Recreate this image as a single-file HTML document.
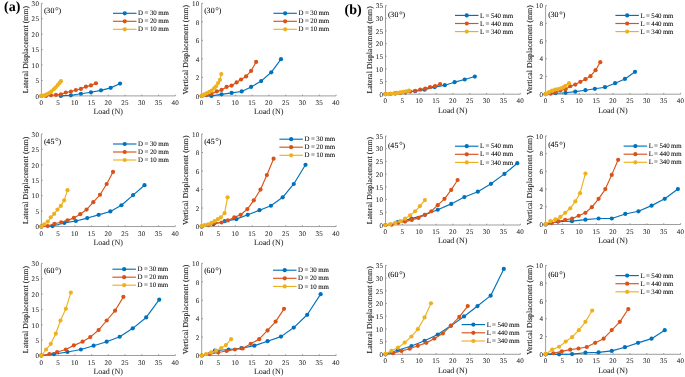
<!DOCTYPE html>
<html><head><meta charset="utf-8"><style>
html,body{margin:0;padding:0;background:#fff;}
body{width:685px;height:377px;overflow:hidden;}
svg{display:block;will-change:transform;}
text{font-family:"Liberation Serif",serif;fill:#262626;text-rendering:geometricPrecision;stroke:currentColor;stroke-width:0.06px;color:#262626;}
.t{font-size:7.0px;letter-spacing:0.3px;}
.l{font-size:8px;}
.ly{font-size:7.6px;letter-spacing:0.14px;stroke-width:0.15px;}
.g{font-size:6.9px;fill:#000;color:#000;letter-spacing:-0.12px;}
.a{font-size:7.9px;fill:#000;color:#000;}
.p{font-size:14px;font-weight:bold;fill:#000;}
</style></head><body>
<svg width="685" height="377" viewBox="0 0 685 377">
<rect width="685" height="377" fill="#fff"/>
<path d="M41.4 3.3V95.9H175.3" fill="none" stroke="#858585" stroke-width="0.8"/>
<path d="M41.4 95.9h1.3M41.4 80.47h1.3M41.4 65.03h1.3M41.4 49.6h1.3M41.4 34.17h1.3M41.4 18.73h1.3M41.4 3.3h1.3M41.4 95.9v-1.3M58.14 95.9v-1.3M74.88 95.9v-1.3M91.61 95.9v-1.3M108.35 95.9v-1.3M125.09 95.9v-1.3M141.83 95.9v-1.3M158.56 95.9v-1.3M175.3 95.9v-1.3" fill="none" stroke="#858585" stroke-width="0.8"/>
<text x="39.2" y="98.6" class="t" text-anchor="end">0</text>
<text x="39.2" y="83.17" class="t" text-anchor="end">5</text>
<text x="39.2" y="67.73" class="t" text-anchor="end">10</text>
<text x="39.2" y="52.3" class="t" text-anchor="end">15</text>
<text x="39.2" y="36.87" class="t" text-anchor="end">20</text>
<text x="39.2" y="21.43" class="t" text-anchor="end">25</text>
<text x="39.2" y="6" class="t" text-anchor="end">30</text>
<text x="41.4" y="105" class="t" text-anchor="middle">0</text>
<text x="58.14" y="105" class="t" text-anchor="middle">5</text>
<text x="74.88" y="105" class="t" text-anchor="middle">10</text>
<text x="91.61" y="105" class="t" text-anchor="middle">15</text>
<text x="108.35" y="105" class="t" text-anchor="middle">20</text>
<text x="125.09" y="105" class="t" text-anchor="middle">25</text>
<text x="141.83" y="105" class="t" text-anchor="middle">30</text>
<text x="158.56" y="105" class="t" text-anchor="middle">35</text>
<text x="175.3" y="105" class="t" text-anchor="middle">40</text>
<text x="108.15" y="114.2" class="l" text-anchor="middle">Load (N)</text>
<text transform="translate(28.1 49.6) rotate(-90)" class="ly" text-anchor="middle">Lateral Displacement (mm)</text>
<text x="44 46.25 50.4" y="12.9" class="a">(30</text>
<circle cx="56.8" cy="8.7" r="1.2" fill="none" stroke="#333" stroke-width="0.6"/>
<text x="58.5" y="12.9" class="a">)</text>
<path d="M60.82 95.9 L70.86 95.28 L80.9 93.74 L90.94 92.29 L100.99 90.34 L110.69 87.87 L120.07 83.55" fill="none" stroke="#0072BD" stroke-width="1.15" stroke-linejoin="round"/>
<g fill="#0072BD"><circle cx="60.82" cy="95.9" r="2.1"/><circle cx="70.86" cy="95.28" r="2.1"/><circle cx="80.9" cy="93.74" r="2.1"/><circle cx="90.94" cy="92.29" r="2.1"/><circle cx="100.99" cy="90.34" r="2.1"/><circle cx="110.69" cy="87.87" r="2.1"/><circle cx="120.07" cy="83.55" r="2.1"/></g>
<path d="M41.4 95.9 L45.99 95.9 L50.97 95.28 L55.96 94.91 L60.92 94.29 L65.84 92.5 L70.86 91.58 L75.88 90.04 L80.9 88.89 L85.92 86.64 L90.94 85.41 L95.96 83.24" fill="none" stroke="#D95319" stroke-width="1.15" stroke-linejoin="round"/>
<g fill="#D95319"><circle cx="41.4" cy="95.9" r="2.1"/><circle cx="45.99" cy="95.9" r="2.1"/><circle cx="50.97" cy="95.28" r="2.1"/><circle cx="55.96" cy="94.91" r="2.1"/><circle cx="60.92" cy="94.29" r="2.1"/><circle cx="65.84" cy="92.5" r="2.1"/><circle cx="70.86" cy="91.58" r="2.1"/><circle cx="75.88" cy="90.04" r="2.1"/><circle cx="80.9" cy="88.89" r="2.1"/><circle cx="85.92" cy="86.64" r="2.1"/><circle cx="90.94" cy="85.41" r="2.1"/><circle cx="95.96" cy="83.24" r="2.1"/></g>
<path d="M41.4 95.9 L41.9 95.88 L44.28 95.38 L46.69 94.4 L49.07 93.02 L51.38 91.34 L53.75 89.27 L55.73 87.31 L57.74 85.09 L59.54 82.91 L60.92 81.15" fill="none" stroke="#EDB120" stroke-width="1.15" stroke-linejoin="round"/>
<g fill="#EDB120"><circle cx="41.4" cy="95.9" r="2.1"/><circle cx="41.9" cy="95.88" r="2.1"/><circle cx="44.28" cy="95.38" r="2.1"/><circle cx="46.69" cy="94.4" r="2.1"/><circle cx="49.07" cy="93.02" r="2.1"/><circle cx="51.38" cy="91.34" r="2.1"/><circle cx="53.75" cy="89.27" r="2.1"/><circle cx="55.73" cy="87.31" r="2.1"/><circle cx="57.74" cy="85.09" r="2.1"/><circle cx="59.54" cy="82.91" r="2.1"/><circle cx="60.92" cy="81.15" r="2.1"/></g>
<path d="M113 13.3h23.5" stroke="#0072BD" stroke-width="1.15"/>
<circle cx="124.75" cy="13.3" r="2.1" fill="#0072BD"/>
<text x="138.1" y="15.4" class="g">D = 30 mm</text>
<path d="M113 21.3h23.5" stroke="#D95319" stroke-width="1.15"/>
<circle cx="124.75" cy="21.3" r="2.1" fill="#D95319"/>
<text x="138.1" y="23.4" class="g">D = 20 mm</text>
<path d="M113 29.3h23.5" stroke="#EDB120" stroke-width="1.15"/>
<circle cx="124.75" cy="29.3" r="2.1" fill="#EDB120"/>
<text x="138.1" y="31.4" class="g">D = 10 mm</text>
<path d="M201.7 3.3V95.9H336.1" fill="none" stroke="#858585" stroke-width="0.8"/>
<path d="M201.7 95.9h1.3M201.7 77.38h1.3M201.7 58.86h1.3M201.7 40.34h1.3M201.7 21.82h1.3M201.7 3.3h1.3M201.7 95.9v-1.3M218.5 95.9v-1.3M235.3 95.9v-1.3M252.1 95.9v-1.3M268.9 95.9v-1.3M285.7 95.9v-1.3M302.5 95.9v-1.3M319.3 95.9v-1.3M336.1 95.9v-1.3" fill="none" stroke="#858585" stroke-width="0.8"/>
<text x="199.5" y="98.6" class="t" text-anchor="end">0</text>
<text x="199.5" y="80.08" class="t" text-anchor="end">2</text>
<text x="199.5" y="61.56" class="t" text-anchor="end">4</text>
<text x="199.5" y="43.04" class="t" text-anchor="end">6</text>
<text x="199.5" y="24.52" class="t" text-anchor="end">8</text>
<text x="199.5" y="6" class="t" text-anchor="end">10</text>
<text x="201.7" y="105" class="t" text-anchor="middle">0</text>
<text x="218.5" y="105" class="t" text-anchor="middle">5</text>
<text x="235.3" y="105" class="t" text-anchor="middle">10</text>
<text x="252.1" y="105" class="t" text-anchor="middle">15</text>
<text x="268.9" y="105" class="t" text-anchor="middle">20</text>
<text x="285.7" y="105" class="t" text-anchor="middle">25</text>
<text x="302.5" y="105" class="t" text-anchor="middle">30</text>
<text x="319.3" y="105" class="t" text-anchor="middle">35</text>
<text x="336.1" y="105" class="t" text-anchor="middle">40</text>
<text x="268.7" y="114.2" class="l" text-anchor="middle">Load (N)</text>
<text transform="translate(188.4 49.6) rotate(-90)" class="ly" text-anchor="middle">Vertical Displacement (mm)</text>
<text x="204.3 206.55 210.7" y="12.9" class="a">(30</text>
<circle cx="217.1" cy="8.7" r="1.2" fill="none" stroke="#333" stroke-width="0.6"/>
<text x="218.8" y="12.9" class="a">)</text>
<path d="M201.7 95.9 L211.44 95.9 L221.52 94.33 L231.6 92.94 L241.68 91.46 L251.09 86.92 L261.17 81.08 L271.25 72.29 L281 59.14" fill="none" stroke="#0072BD" stroke-width="1.15" stroke-linejoin="round"/>
<g fill="#0072BD"><circle cx="201.7" cy="95.9" r="2.1"/><circle cx="211.44" cy="95.9" r="2.1"/><circle cx="221.52" cy="94.33" r="2.1"/><circle cx="231.6" cy="92.94" r="2.1"/><circle cx="241.68" cy="91.46" r="2.1"/><circle cx="251.09" cy="86.92" r="2.1"/><circle cx="261.17" cy="81.08" r="2.1"/><circle cx="271.25" cy="72.29" r="2.1"/><circle cx="281" cy="59.14" r="2.1"/></g>
<path d="M201.7 95.9 L206.57 95.16 L211.44 93.86 L216.82 91.46 L221.52 89.88 L226.56 86.92 L231.6 85.53 L236.64 82.47 L241.01 79.51 L246.05 76.45 L251.09 70.9 L256.13 61.92" fill="none" stroke="#D95319" stroke-width="1.15" stroke-linejoin="round"/>
<g fill="#D95319"><circle cx="201.7" cy="95.9" r="2.1"/><circle cx="206.57" cy="95.16" r="2.1"/><circle cx="211.44" cy="93.86" r="2.1"/><circle cx="216.82" cy="91.46" r="2.1"/><circle cx="221.52" cy="89.88" r="2.1"/><circle cx="226.56" cy="86.92" r="2.1"/><circle cx="231.6" cy="85.53" r="2.1"/><circle cx="236.64" cy="82.47" r="2.1"/><circle cx="241.01" cy="79.51" r="2.1"/><circle cx="246.05" cy="76.45" r="2.1"/><circle cx="251.09" cy="70.9" r="2.1"/><circle cx="256.13" cy="61.92" r="2.1"/></g>
<path d="M201.7 95.9 L202.2 95.53 L204.59 94.33 L207.01 93.12 L209.39 91.92 L211.71 90.71 L214.1 88.31 L216.08 86.36 L218.1 83.12 L219.91 79.88 L221.29 74.05" fill="none" stroke="#EDB120" stroke-width="1.15" stroke-linejoin="round"/>
<g fill="#EDB120"><circle cx="201.7" cy="95.9" r="2.1"/><circle cx="202.2" cy="95.53" r="2.1"/><circle cx="204.59" cy="94.33" r="2.1"/><circle cx="207.01" cy="93.12" r="2.1"/><circle cx="209.39" cy="91.92" r="2.1"/><circle cx="211.71" cy="90.71" r="2.1"/><circle cx="214.1" cy="88.31" r="2.1"/><circle cx="216.08" cy="86.36" r="2.1"/><circle cx="218.1" cy="83.12" r="2.1"/><circle cx="219.91" cy="79.88" r="2.1"/><circle cx="221.29" cy="74.05" r="2.1"/></g>
<path d="M273.4 13.3h23.5" stroke="#0072BD" stroke-width="1.15"/>
<circle cx="285.15" cy="13.3" r="2.1" fill="#0072BD"/>
<text x="298.5" y="15.4" class="g">D = 30 mm</text>
<path d="M273.4 21.3h23.5" stroke="#D95319" stroke-width="1.15"/>
<circle cx="285.15" cy="21.3" r="2.1" fill="#D95319"/>
<text x="298.5" y="23.4" class="g">D = 20 mm</text>
<path d="M273.4 29.3h23.5" stroke="#EDB120" stroke-width="1.15"/>
<circle cx="285.15" cy="29.3" r="2.1" fill="#EDB120"/>
<text x="298.5" y="31.4" class="g">D = 10 mm</text>
<path d="M41.4 134V226.55H175.3" fill="none" stroke="#858585" stroke-width="0.8"/>
<path d="M41.4 226.55h1.3M41.4 211.12h1.3M41.4 195.7h1.3M41.4 180.28h1.3M41.4 164.85h1.3M41.4 149.43h1.3M41.4 134h1.3M41.4 226.55v-1.3M58.14 226.55v-1.3M74.88 226.55v-1.3M91.61 226.55v-1.3M108.35 226.55v-1.3M125.09 226.55v-1.3M141.83 226.55v-1.3M158.56 226.55v-1.3M175.3 226.55v-1.3" fill="none" stroke="#858585" stroke-width="0.8"/>
<text x="39.2" y="229.25" class="t" text-anchor="end">0</text>
<text x="39.2" y="213.82" class="t" text-anchor="end">5</text>
<text x="39.2" y="198.4" class="t" text-anchor="end">10</text>
<text x="39.2" y="182.97" class="t" text-anchor="end">15</text>
<text x="39.2" y="167.55" class="t" text-anchor="end">20</text>
<text x="39.2" y="152.12" class="t" text-anchor="end">25</text>
<text x="39.2" y="136.7" class="t" text-anchor="end">30</text>
<text x="41.4" y="235.65" class="t" text-anchor="middle">0</text>
<text x="58.14" y="235.65" class="t" text-anchor="middle">5</text>
<text x="74.88" y="235.65" class="t" text-anchor="middle">10</text>
<text x="91.61" y="235.65" class="t" text-anchor="middle">15</text>
<text x="108.35" y="235.65" class="t" text-anchor="middle">20</text>
<text x="125.09" y="235.65" class="t" text-anchor="middle">25</text>
<text x="141.83" y="235.65" class="t" text-anchor="middle">30</text>
<text x="158.56" y="235.65" class="t" text-anchor="middle">35</text>
<text x="175.3" y="235.65" class="t" text-anchor="middle">40</text>
<text x="108.15" y="244.85" class="l" text-anchor="middle">Load (N)</text>
<text transform="translate(28.1 180.28) rotate(-90)" class="ly" text-anchor="middle">Lateral Displacement (mm)</text>
<text x="44 46.25 50.4" y="143.6" class="a">(45</text>
<circle cx="56.8" cy="139.4" r="1.2" fill="none" stroke="#333" stroke-width="0.6"/>
<text x="58.5" y="143.6" class="a">)</text>
<path d="M41.4 226.55 L52.45 226.06 L64.33 222.94 L75.88 221 L87.26 218.07 L98.64 214.83 L110.36 211.43 L121.41 205.26 L133.12 195.08 L144.5 185.21" fill="none" stroke="#0072BD" stroke-width="1.15" stroke-linejoin="round"/>
<g fill="#0072BD"><circle cx="41.4" cy="226.55" r="2.1"/><circle cx="52.45" cy="226.06" r="2.1"/><circle cx="64.33" cy="222.94" r="2.1"/><circle cx="75.88" cy="221" r="2.1"/><circle cx="87.26" cy="218.07" r="2.1"/><circle cx="98.64" cy="214.83" r="2.1"/><circle cx="110.36" cy="211.43" r="2.1"/><circle cx="121.41" cy="205.26" r="2.1"/><circle cx="133.12" cy="195.08" r="2.1"/><circle cx="144.5" cy="185.21" r="2.1"/></g>
<path d="M41.4 226.55 L47.76 226.06 L54.46 223.77 L61.15 222.23 L67.51 220.38 L73.87 217.91 L80.23 214.21 L86.59 209.58 L93.29 202.18 L99.98 194.77 L106.68 183.98 L113.04 171.95" fill="none" stroke="#D95319" stroke-width="1.15" stroke-linejoin="round"/>
<g fill="#D95319"><circle cx="41.4" cy="226.55" r="2.1"/><circle cx="47.76" cy="226.06" r="2.1"/><circle cx="54.46" cy="223.77" r="2.1"/><circle cx="61.15" cy="222.23" r="2.1"/><circle cx="67.51" cy="220.38" r="2.1"/><circle cx="73.87" cy="217.91" r="2.1"/><circle cx="80.23" cy="214.21" r="2.1"/><circle cx="86.59" cy="209.58" r="2.1"/><circle cx="93.29" cy="202.18" r="2.1"/><circle cx="99.98" cy="194.77" r="2.1"/><circle cx="106.68" cy="183.98" r="2.1"/><circle cx="113.04" cy="171.95" r="2.1"/></g>
<path d="M41.4 226.55 L44.28 224.24 L47.76 221.61 L50.77 217.3 L54.12 213.9 L57.47 209.58 L60.82 205.88 L64.16 200.33 L67.51 190.15" fill="none" stroke="#EDB120" stroke-width="1.15" stroke-linejoin="round"/>
<g fill="#EDB120"><circle cx="41.4" cy="226.55" r="2.1"/><circle cx="44.28" cy="224.24" r="2.1"/><circle cx="47.76" cy="221.61" r="2.1"/><circle cx="50.77" cy="217.3" r="2.1"/><circle cx="54.12" cy="213.9" r="2.1"/><circle cx="57.47" cy="209.58" r="2.1"/><circle cx="60.82" cy="205.88" r="2.1"/><circle cx="64.16" cy="200.33" r="2.1"/><circle cx="67.51" cy="190.15" r="2.1"/></g>
<path d="M113 144h23.5" stroke="#0072BD" stroke-width="1.15"/>
<circle cx="124.75" cy="144" r="2.1" fill="#0072BD"/>
<text x="138.1" y="146.1" class="g">D = 30 mm</text>
<path d="M113 152h23.5" stroke="#D95319" stroke-width="1.15"/>
<circle cx="124.75" cy="152" r="2.1" fill="#D95319"/>
<text x="138.1" y="154.1" class="g">D = 20 mm</text>
<path d="M113 160h23.5" stroke="#EDB120" stroke-width="1.15"/>
<circle cx="124.75" cy="160" r="2.1" fill="#EDB120"/>
<text x="138.1" y="162.1" class="g">D = 10 mm</text>
<path d="M201.7 134V226.55H336.1" fill="none" stroke="#858585" stroke-width="0.8"/>
<path d="M201.7 226.55h1.3M201.7 208.04h1.3M201.7 189.53h1.3M201.7 171.02h1.3M201.7 152.51h1.3M201.7 134h1.3M201.7 226.55v-1.3M218.5 226.55v-1.3M235.3 226.55v-1.3M252.1 226.55v-1.3M268.9 226.55v-1.3M285.7 226.55v-1.3M302.5 226.55v-1.3M319.3 226.55v-1.3M336.1 226.55v-1.3" fill="none" stroke="#858585" stroke-width="0.8"/>
<text x="199.5" y="229.25" class="t" text-anchor="end">0</text>
<text x="199.5" y="210.74" class="t" text-anchor="end">2</text>
<text x="199.5" y="192.23" class="t" text-anchor="end">4</text>
<text x="199.5" y="173.72" class="t" text-anchor="end">6</text>
<text x="199.5" y="155.21" class="t" text-anchor="end">8</text>
<text x="199.5" y="136.7" class="t" text-anchor="end">10</text>
<text x="201.7" y="235.65" class="t" text-anchor="middle">0</text>
<text x="218.5" y="235.65" class="t" text-anchor="middle">5</text>
<text x="235.3" y="235.65" class="t" text-anchor="middle">10</text>
<text x="252.1" y="235.65" class="t" text-anchor="middle">15</text>
<text x="268.9" y="235.65" class="t" text-anchor="middle">20</text>
<text x="285.7" y="235.65" class="t" text-anchor="middle">25</text>
<text x="302.5" y="235.65" class="t" text-anchor="middle">30</text>
<text x="319.3" y="235.65" class="t" text-anchor="middle">35</text>
<text x="336.1" y="235.65" class="t" text-anchor="middle">40</text>
<text x="268.7" y="244.85" class="l" text-anchor="middle">Load (N)</text>
<text transform="translate(188.4 180.28) rotate(-90)" class="ly" text-anchor="middle">Vertical Displacement (mm)</text>
<text x="204.3 206.55 210.7" y="143.6" class="a">(45</text>
<circle cx="217.1" cy="139.4" r="1.2" fill="none" stroke="#333" stroke-width="0.6"/>
<text x="218.8" y="143.6" class="a">)</text>
<path d="M201.7 226.55 L213.46 224.24 L224.72 221.18 L236.31 219.15 L247.73 214.8 L259.49 210.17 L270.92 205.73 L282.68 197.3 L293.76 183.98 L305.52 164.82" fill="none" stroke="#0072BD" stroke-width="1.15" stroke-linejoin="round"/>
<g fill="#0072BD"><circle cx="201.7" cy="226.55" r="2.1"/><circle cx="213.46" cy="224.24" r="2.1"/><circle cx="224.72" cy="221.18" r="2.1"/><circle cx="236.31" cy="219.15" r="2.1"/><circle cx="247.73" cy="214.8" r="2.1"/><circle cx="259.49" cy="210.17" r="2.1"/><circle cx="270.92" cy="205.73" r="2.1"/><circle cx="282.68" cy="197.3" r="2.1"/><circle cx="293.76" cy="183.98" r="2.1"/><circle cx="305.52" cy="164.82" r="2.1"/></g>
<path d="M201.7 226.55 L208.42 225.07 L214.8 222.94 L221.52 222.48 L227.91 220.44 L234.29 217.39 L240.68 214.8 L247.4 209.06 L253.78 200.36 L260.5 189.53 L266.88 175.09 L273.6 158.71" fill="none" stroke="#D95319" stroke-width="1.15" stroke-linejoin="round"/>
<g fill="#D95319"><circle cx="201.7" cy="226.55" r="2.1"/><circle cx="208.42" cy="225.07" r="2.1"/><circle cx="214.8" cy="222.94" r="2.1"/><circle cx="221.52" cy="222.48" r="2.1"/><circle cx="227.91" cy="220.44" r="2.1"/><circle cx="234.29" cy="217.39" r="2.1"/><circle cx="240.68" cy="214.8" r="2.1"/><circle cx="247.4" cy="209.06" r="2.1"/><circle cx="253.78" cy="200.36" r="2.1"/><circle cx="260.5" cy="189.53" r="2.1"/><circle cx="266.88" cy="175.09" r="2.1"/><circle cx="273.6" cy="158.71" r="2.1"/></g>
<path d="M201.7 226.09 L204.72 225.07 L208.08 224.24 L211.44 222.94 L214.47 221.18 L217.83 219.15 L220.85 217.39 L224.55 213.13 L227.57 197.3" fill="none" stroke="#EDB120" stroke-width="1.15" stroke-linejoin="round"/>
<g fill="#EDB120"><circle cx="201.7" cy="226.09" r="2.1"/><circle cx="204.72" cy="225.07" r="2.1"/><circle cx="208.08" cy="224.24" r="2.1"/><circle cx="211.44" cy="222.94" r="2.1"/><circle cx="214.47" cy="221.18" r="2.1"/><circle cx="217.83" cy="219.15" r="2.1"/><circle cx="220.85" cy="217.39" r="2.1"/><circle cx="224.55" cy="213.13" r="2.1"/><circle cx="227.57" cy="197.3" r="2.1"/></g>
<path d="M279.4 139.2h23.5" stroke="#0072BD" stroke-width="1.15"/>
<circle cx="291.15" cy="139.2" r="2.1" fill="#0072BD"/>
<text x="304.5" y="141.3" class="g">D = 30 mm</text>
<path d="M279.4 147.2h23.5" stroke="#D95319" stroke-width="1.15"/>
<circle cx="291.15" cy="147.2" r="2.1" fill="#D95319"/>
<text x="304.5" y="149.3" class="g">D = 20 mm</text>
<path d="M279.4 155.3h23.5" stroke="#EDB120" stroke-width="1.15"/>
<circle cx="291.15" cy="155.3" r="2.1" fill="#EDB120"/>
<text x="304.5" y="157.4" class="g">D = 10 mm</text>
<path d="M41.4 263.4V355.5H175.3" fill="none" stroke="#858585" stroke-width="0.8"/>
<path d="M41.4 355.5h1.3M41.4 340.15h1.3M41.4 324.8h1.3M41.4 309.45h1.3M41.4 294.1h1.3M41.4 278.75h1.3M41.4 263.4h1.3M41.4 355.5v-1.3M58.14 355.5v-1.3M74.88 355.5v-1.3M91.61 355.5v-1.3M108.35 355.5v-1.3M125.09 355.5v-1.3M141.83 355.5v-1.3M158.56 355.5v-1.3M175.3 355.5v-1.3" fill="none" stroke="#858585" stroke-width="0.8"/>
<text x="39.2" y="358.2" class="t" text-anchor="end">0</text>
<text x="39.2" y="342.85" class="t" text-anchor="end">5</text>
<text x="39.2" y="327.5" class="t" text-anchor="end">10</text>
<text x="39.2" y="312.15" class="t" text-anchor="end">15</text>
<text x="39.2" y="296.8" class="t" text-anchor="end">20</text>
<text x="39.2" y="281.45" class="t" text-anchor="end">25</text>
<text x="39.2" y="266.1" class="t" text-anchor="end">30</text>
<text x="41.4" y="364.6" class="t" text-anchor="middle">0</text>
<text x="58.14" y="364.6" class="t" text-anchor="middle">5</text>
<text x="74.88" y="364.6" class="t" text-anchor="middle">10</text>
<text x="91.61" y="364.6" class="t" text-anchor="middle">15</text>
<text x="108.35" y="364.6" class="t" text-anchor="middle">20</text>
<text x="125.09" y="364.6" class="t" text-anchor="middle">25</text>
<text x="141.83" y="364.6" class="t" text-anchor="middle">30</text>
<text x="158.56" y="364.6" class="t" text-anchor="middle">35</text>
<text x="175.3" y="364.6" class="t" text-anchor="middle">40</text>
<text x="108.15" y="373.8" class="l" text-anchor="middle">Load (N)</text>
<text transform="translate(28.1 309.45) rotate(-90)" class="ly" text-anchor="middle">Lateral Displacement (mm)</text>
<text x="44 46.25 50.4" y="273" class="a">(60</text>
<circle cx="56.8" cy="268.8" r="1.2" fill="none" stroke="#333" stroke-width="0.6"/>
<text x="58.5" y="273" class="a">)</text>
<path d="M41.4 355.5 L53.95 354.12 L67.51 352 L80.9 349.51 L93.62 345.68 L106.68 341.69 L119.73 336.77 L132.79 328.33 L146.18 317.43 L159.23 299.63" fill="none" stroke="#0072BD" stroke-width="1.15" stroke-linejoin="round"/>
<g fill="#0072BD"><circle cx="41.4" cy="355.5" r="2.1"/><circle cx="53.95" cy="354.12" r="2.1"/><circle cx="67.51" cy="352" r="2.1"/><circle cx="80.9" cy="349.51" r="2.1"/><circle cx="93.62" cy="345.68" r="2.1"/><circle cx="106.68" cy="341.69" r="2.1"/><circle cx="119.73" cy="336.77" r="2.1"/><circle cx="132.79" cy="328.33" r="2.1"/><circle cx="146.18" cy="317.43" r="2.1"/><circle cx="159.23" cy="299.63" r="2.1"/></g>
<path d="M41.4 355.5 L49.43 354.12 L57.13 352 L65.84 349.51 L73.87 345.37 L82.57 341.69 L90.27 337.08 L98.64 330.02 L106.68 320.5 L115.05 310.68 L123.41 296.86" fill="none" stroke="#D95319" stroke-width="1.15" stroke-linejoin="round"/>
<g fill="#D95319"><circle cx="41.4" cy="355.5" r="2.1"/><circle cx="49.43" cy="354.12" r="2.1"/><circle cx="57.13" cy="352" r="2.1"/><circle cx="65.84" cy="349.51" r="2.1"/><circle cx="73.87" cy="345.37" r="2.1"/><circle cx="82.57" cy="341.69" r="2.1"/><circle cx="90.27" cy="337.08" r="2.1"/><circle cx="98.64" cy="330.02" r="2.1"/><circle cx="106.68" cy="320.5" r="2.1"/><circle cx="115.05" cy="310.68" r="2.1"/><circle cx="123.41" cy="296.86" r="2.1"/></g>
<path d="M41.4 355.5 L46.09 349.51 L50.77 343.83 L55.79 333.7 L60.48 320.5 L65.84 308.84 L70.86 292.56" fill="none" stroke="#EDB120" stroke-width="1.15" stroke-linejoin="round"/>
<g fill="#EDB120"><circle cx="41.4" cy="355.5" r="2.1"/><circle cx="46.09" cy="349.51" r="2.1"/><circle cx="50.77" cy="343.83" r="2.1"/><circle cx="55.79" cy="333.7" r="2.1"/><circle cx="60.48" cy="320.5" r="2.1"/><circle cx="65.84" cy="308.84" r="2.1"/><circle cx="70.86" cy="292.56" r="2.1"/></g>
<path d="M112.4 269.2h23.5" stroke="#0072BD" stroke-width="1.15"/>
<circle cx="124.15" cy="269.2" r="2.1" fill="#0072BD"/>
<text x="137.5" y="271.3" class="g">D = 30 mm</text>
<path d="M112.4 277.2h23.5" stroke="#D95319" stroke-width="1.15"/>
<circle cx="124.15" cy="277.2" r="2.1" fill="#D95319"/>
<text x="137.5" y="279.3" class="g">D = 20 mm</text>
<path d="M112.4 285.2h23.5" stroke="#EDB120" stroke-width="1.15"/>
<circle cx="124.15" cy="285.2" r="2.1" fill="#EDB120"/>
<text x="137.5" y="287.3" class="g">D = 10 mm</text>
<path d="M201.7 263.4V355.5H336.1" fill="none" stroke="#858585" stroke-width="0.8"/>
<path d="M201.7 355.5h1.3M201.7 337.08h1.3M201.7 318.66h1.3M201.7 300.24h1.3M201.7 281.82h1.3M201.7 263.4h1.3M201.7 355.5v-1.3M218.5 355.5v-1.3M235.3 355.5v-1.3M252.1 355.5v-1.3M268.9 355.5v-1.3M285.7 355.5v-1.3M302.5 355.5v-1.3M319.3 355.5v-1.3M336.1 355.5v-1.3" fill="none" stroke="#858585" stroke-width="0.8"/>
<text x="199.5" y="358.2" class="t" text-anchor="end">0</text>
<text x="199.5" y="339.78" class="t" text-anchor="end">2</text>
<text x="199.5" y="321.36" class="t" text-anchor="end">4</text>
<text x="199.5" y="302.94" class="t" text-anchor="end">6</text>
<text x="199.5" y="284.52" class="t" text-anchor="end">8</text>
<text x="199.5" y="266.1" class="t" text-anchor="end">10</text>
<text x="201.7" y="364.6" class="t" text-anchor="middle">0</text>
<text x="218.5" y="364.6" class="t" text-anchor="middle">5</text>
<text x="235.3" y="364.6" class="t" text-anchor="middle">10</text>
<text x="252.1" y="364.6" class="t" text-anchor="middle">15</text>
<text x="268.9" y="364.6" class="t" text-anchor="middle">20</text>
<text x="285.7" y="364.6" class="t" text-anchor="middle">25</text>
<text x="302.5" y="364.6" class="t" text-anchor="middle">30</text>
<text x="319.3" y="364.6" class="t" text-anchor="middle">35</text>
<text x="336.1" y="364.6" class="t" text-anchor="middle">40</text>
<text x="268.7" y="373.8" class="l" text-anchor="middle">Load (N)</text>
<text transform="translate(188.4 309.45) rotate(-90)" class="ly" text-anchor="middle">Vertical Displacement (mm)</text>
<text x="204.3 206.55 210.7" y="273" class="a">(60</text>
<circle cx="217.1" cy="268.8" r="1.2" fill="none" stroke="#333" stroke-width="0.6"/>
<text x="218.8" y="273" class="a">)</text>
<path d="M201.7 355.5 L214.8 350.71 L228.51 349.51 L241.35 348.22 L254.45 345.65 L267.56 341.22 L281 336.62 L293.76 327.59 L307.2 314.79 L320.64 294.16" fill="none" stroke="#0072BD" stroke-width="1.15" stroke-linejoin="round"/>
<g fill="#0072BD"><circle cx="201.7" cy="355.5" r="2.1"/><circle cx="214.8" cy="350.71" r="2.1"/><circle cx="228.51" cy="349.51" r="2.1"/><circle cx="241.35" cy="348.22" r="2.1"/><circle cx="254.45" cy="345.65" r="2.1"/><circle cx="267.56" cy="341.22" r="2.1"/><circle cx="281" cy="336.62" r="2.1"/><circle cx="293.76" cy="327.59" r="2.1"/><circle cx="307.2" cy="314.79" r="2.1"/><circle cx="320.64" cy="294.16" r="2.1"/></g>
<path d="M201.7 355.5 L209.76 354.12 L218.16 352.46 L226.56 350.99 L234.96 349.51 L242.69 348.41 L250.76 343.8 L259.16 339.2 L267.56 330.45 L275.62 321.61 L284.02 308.81" fill="none" stroke="#D95319" stroke-width="1.15" stroke-linejoin="round"/>
<g fill="#D95319"><circle cx="201.7" cy="355.5" r="2.1"/><circle cx="209.76" cy="354.12" r="2.1"/><circle cx="218.16" cy="352.46" r="2.1"/><circle cx="226.56" cy="350.99" r="2.1"/><circle cx="234.96" cy="349.51" r="2.1"/><circle cx="242.69" cy="348.41" r="2.1"/><circle cx="250.76" cy="343.8" r="2.1"/><circle cx="259.16" cy="339.2" r="2.1"/><circle cx="267.56" cy="330.45" r="2.1"/><circle cx="275.62" cy="321.61" r="2.1"/><circle cx="284.02" cy="308.81" r="2.1"/></g>
<path d="M201.7 355.5 L206.07 354.12 L211.11 352.46 L216.15 350.71 L221.19 348.22 L225.89 345.09 L231.1 339.2" fill="none" stroke="#EDB120" stroke-width="1.15" stroke-linejoin="round"/>
<g fill="#EDB120"><circle cx="201.7" cy="355.5" r="2.1"/><circle cx="206.07" cy="354.12" r="2.1"/><circle cx="211.11" cy="352.46" r="2.1"/><circle cx="216.15" cy="350.71" r="2.1"/><circle cx="221.19" cy="348.22" r="2.1"/><circle cx="225.89" cy="345.09" r="2.1"/><circle cx="231.1" cy="339.2" r="2.1"/></g>
<path d="M273 270.2h23.5" stroke="#0072BD" stroke-width="1.15"/>
<circle cx="284.75" cy="270.2" r="2.1" fill="#0072BD"/>
<text x="298.1" y="272.3" class="g">D = 30 mm</text>
<path d="M273 278.3h23.5" stroke="#D95319" stroke-width="1.15"/>
<circle cx="284.75" cy="278.3" r="2.1" fill="#D95319"/>
<text x="298.1" y="280.4" class="g">D = 20 mm</text>
<path d="M273 286.4h23.5" stroke="#EDB120" stroke-width="1.15"/>
<circle cx="284.75" cy="286.4" r="2.1" fill="#EDB120"/>
<text x="298.1" y="288.5" class="g">D = 10 mm</text>
<path d="M385.5 5.6V94.2H520.3" fill="none" stroke="#858585" stroke-width="0.8"/>
<path d="M385.5 94.2h1.3M385.5 81.54h1.3M385.5 68.89h1.3M385.5 56.23h1.3M385.5 43.57h1.3M385.5 30.91h1.3M385.5 18.26h1.3M385.5 5.6h1.3M385.5 94.2v-1.3M402.35 94.2v-1.3M419.2 94.2v-1.3M436.05 94.2v-1.3M452.9 94.2v-1.3M469.75 94.2v-1.3M486.6 94.2v-1.3M503.45 94.2v-1.3M520.3 94.2v-1.3" fill="none" stroke="#858585" stroke-width="0.8"/>
<text x="383.3" y="96.9" class="t" text-anchor="end">0</text>
<text x="383.3" y="84.24" class="t" text-anchor="end">5</text>
<text x="383.3" y="71.59" class="t" text-anchor="end">10</text>
<text x="383.3" y="58.93" class="t" text-anchor="end">15</text>
<text x="383.3" y="46.27" class="t" text-anchor="end">20</text>
<text x="383.3" y="33.61" class="t" text-anchor="end">25</text>
<text x="383.3" y="20.96" class="t" text-anchor="end">30</text>
<text x="383.3" y="8.3" class="t" text-anchor="end">35</text>
<text x="385.5" y="103.3" class="t" text-anchor="middle">0</text>
<text x="402.35" y="103.3" class="t" text-anchor="middle">5</text>
<text x="419.2" y="103.3" class="t" text-anchor="middle">10</text>
<text x="436.05" y="103.3" class="t" text-anchor="middle">15</text>
<text x="452.9" y="103.3" class="t" text-anchor="middle">20</text>
<text x="469.75" y="103.3" class="t" text-anchor="middle">25</text>
<text x="486.6" y="103.3" class="t" text-anchor="middle">30</text>
<text x="503.45" y="103.3" class="t" text-anchor="middle">35</text>
<text x="520.3" y="103.3" class="t" text-anchor="middle">40</text>
<text x="452.7" y="112.5" class="l" text-anchor="middle">Load (N)</text>
<text transform="translate(372.2 49.9) rotate(-90)" class="ly" text-anchor="middle">Lateral Displacement (mm)</text>
<text x="388.1 390.35 394.5" y="17.1" class="a">(30</text>
<circle cx="400.9" cy="12.9" r="1.2" fill="none" stroke="#333" stroke-width="0.6"/>
<text x="402.6" y="17.1" class="a">)</text>
<path d="M385.5 94.2 L395.27 93.31 L405.38 92.3 L415.16 91.16 L424.59 89.64 L434.7 87.11 L444.81 85.19 L454.59 82.18 L464.69 79.52 L474.81 76.56" fill="none" stroke="#0072BD" stroke-width="1.15" stroke-linejoin="round"/>
<g fill="#0072BD"><circle cx="385.5" cy="94.2" r="2.1"/><circle cx="395.27" cy="93.31" r="2.1"/><circle cx="405.38" cy="92.3" r="2.1"/><circle cx="415.16" cy="91.16" r="2.1"/><circle cx="424.59" cy="89.64" r="2.1"/><circle cx="434.7" cy="87.11" r="2.1"/><circle cx="444.81" cy="85.19" r="2.1"/><circle cx="454.59" cy="82.18" r="2.1"/><circle cx="464.69" cy="79.52" r="2.1"/><circle cx="474.81" cy="76.56" r="2.1"/></g>
<path d="M385.5 94.2 L390.56 93.95 L395.27 93.44 L400.33 92.93 L405.38 92.3 L410.1 91.59 L415.16 90.78 L420.21 89.64 L425.27 88.63 L429.98 87.11 L435.04 86.1 L440.09 84.18" fill="none" stroke="#D95319" stroke-width="1.15" stroke-linejoin="round"/>
<g fill="#D95319"><circle cx="385.5" cy="94.2" r="2.1"/><circle cx="390.56" cy="93.95" r="2.1"/><circle cx="395.27" cy="93.44" r="2.1"/><circle cx="400.33" cy="92.93" r="2.1"/><circle cx="405.38" cy="92.3" r="2.1"/><circle cx="410.1" cy="91.59" r="2.1"/><circle cx="415.16" cy="90.78" r="2.1"/><circle cx="420.21" cy="89.64" r="2.1"/><circle cx="425.27" cy="88.63" r="2.1"/><circle cx="429.98" cy="87.11" r="2.1"/><circle cx="435.04" cy="86.1" r="2.1"/><circle cx="440.09" cy="84.18" r="2.1"/></g>
<path d="M385.5 94.2 L388.43 94.04 L391.36 93.76 L394.3 93.39 L397.23 92.96 L400.16 92.46 L403.09 91.91 L406.02 91.32 L408.96 90.68" fill="none" stroke="#EDB120" stroke-width="1.15" stroke-linejoin="round"/>
<g fill="#EDB120"><circle cx="385.5" cy="94.2" r="2.1"/><circle cx="388.43" cy="94.04" r="2.1"/><circle cx="391.36" cy="93.76" r="2.1"/><circle cx="394.3" cy="93.39" r="2.1"/><circle cx="397.23" cy="92.96" r="2.1"/><circle cx="400.16" cy="92.46" r="2.1"/><circle cx="403.09" cy="91.91" r="2.1"/><circle cx="406.02" cy="91.32" r="2.1"/><circle cx="408.96" cy="90.68" r="2.1"/></g>
<path d="M455 15.4h23.5" stroke="#0072BD" stroke-width="1.15"/>
<circle cx="466.75" cy="15.4" r="2.1" fill="#0072BD"/>
<text x="480.1" y="17.5" class="g">L = 540 mm</text>
<path d="M455 23.5h23.5" stroke="#D95319" stroke-width="1.15"/>
<circle cx="466.75" cy="23.5" r="2.1" fill="#D95319"/>
<text x="480.1" y="25.6" class="g">L = 440 mm</text>
<path d="M455 31.6h23.5" stroke="#EDB120" stroke-width="1.15"/>
<circle cx="466.75" cy="31.6" r="2.1" fill="#EDB120"/>
<text x="480.1" y="33.7" class="g">L = 340 mm</text>
<path d="M545.6 5.6V94.2H680.6" fill="none" stroke="#858585" stroke-width="0.8"/>
<path d="M545.6 94.2h1.3M545.6 76.48h1.3M545.6 58.76h1.3M545.6 41.04h1.3M545.6 23.32h1.3M545.6 5.6h1.3M545.6 94.2v-1.3M562.48 94.2v-1.3M579.35 94.2v-1.3M596.23 94.2v-1.3M613.1 94.2v-1.3M629.98 94.2v-1.3M646.85 94.2v-1.3M663.73 94.2v-1.3M680.6 94.2v-1.3" fill="none" stroke="#858585" stroke-width="0.8"/>
<text x="543.4" y="96.9" class="t" text-anchor="end">0</text>
<text x="543.4" y="79.18" class="t" text-anchor="end">2</text>
<text x="543.4" y="61.46" class="t" text-anchor="end">4</text>
<text x="543.4" y="43.74" class="t" text-anchor="end">6</text>
<text x="543.4" y="26.02" class="t" text-anchor="end">8</text>
<text x="543.4" y="8.3" class="t" text-anchor="end">10</text>
<text x="545.6" y="103.3" class="t" text-anchor="middle">0</text>
<text x="562.48" y="103.3" class="t" text-anchor="middle">5</text>
<text x="579.35" y="103.3" class="t" text-anchor="middle">10</text>
<text x="596.23" y="103.3" class="t" text-anchor="middle">15</text>
<text x="613.1" y="103.3" class="t" text-anchor="middle">20</text>
<text x="629.98" y="103.3" class="t" text-anchor="middle">25</text>
<text x="646.85" y="103.3" class="t" text-anchor="middle">30</text>
<text x="663.73" y="103.3" class="t" text-anchor="middle">35</text>
<text x="680.6" y="103.3" class="t" text-anchor="middle">40</text>
<text x="612.9" y="112.5" class="l" text-anchor="middle">Load (N)</text>
<text transform="translate(532.3 49.9) rotate(-90)" class="ly" text-anchor="middle">Vertical Displacement (mm)</text>
<text x="548.2 550.45 554.6" y="17.1" class="a">(30</text>
<circle cx="561" cy="12.9" r="1.2" fill="none" stroke="#333" stroke-width="0.6"/>
<text x="562.7" y="17.1" class="a">)</text>
<path d="M545.6 94.2 L555.39 93.23 L565.51 92.78 L575.3 91.63 L585.43 90.21 L594.88 88.8 L605 87.2 L615.12 83.21 L624.91 78.96 L635.04 71.78" fill="none" stroke="#0072BD" stroke-width="1.15" stroke-linejoin="round"/>
<g fill="#0072BD"><circle cx="545.6" cy="94.2" r="2.1"/><circle cx="555.39" cy="93.23" r="2.1"/><circle cx="565.51" cy="92.78" r="2.1"/><circle cx="575.3" cy="91.63" r="2.1"/><circle cx="585.43" cy="90.21" r="2.1"/><circle cx="594.88" cy="88.8" r="2.1"/><circle cx="605" cy="87.2" r="2.1"/><circle cx="615.12" cy="83.21" r="2.1"/><circle cx="624.91" cy="78.96" r="2.1"/><circle cx="635.04" cy="71.78" r="2.1"/></g>
<path d="M545.6 94.2 L550.66 93.76 L555.39 92.43 L560.45 90.21 L565.51 89.15 L570.24 86.23 L575.3 84.54 L580.36 81.8 L585.43 79.14 L590.49 76.13 L595.55 70.19 L600.27 62.13" fill="none" stroke="#D95319" stroke-width="1.15" stroke-linejoin="round"/>
<g fill="#D95319"><circle cx="545.6" cy="94.2" r="2.1"/><circle cx="550.66" cy="93.76" r="2.1"/><circle cx="555.39" cy="92.43" r="2.1"/><circle cx="560.45" cy="90.21" r="2.1"/><circle cx="565.51" cy="89.15" r="2.1"/><circle cx="570.24" cy="86.23" r="2.1"/><circle cx="575.3" cy="84.54" r="2.1"/><circle cx="580.36" cy="81.8" r="2.1"/><circle cx="585.43" cy="79.14" r="2.1"/><circle cx="590.49" cy="76.13" r="2.1"/><circle cx="595.55" cy="70.19" r="2.1"/><circle cx="600.27" cy="62.13" r="2.1"/></g>
<path d="M545.6 94.2 L546.51 93.67 L548.98 92.16 L552.01 90.66 L555.05 89.68 L557.99 89.15 L560.99 88.35 L563.49 87.2 L565.51 85.78 L568.99 83.21" fill="none" stroke="#EDB120" stroke-width="1.15" stroke-linejoin="round"/>
<g fill="#EDB120"><circle cx="545.6" cy="94.2" r="2.1"/><circle cx="546.51" cy="93.67" r="2.1"/><circle cx="548.98" cy="92.16" r="2.1"/><circle cx="552.01" cy="90.66" r="2.1"/><circle cx="555.05" cy="89.68" r="2.1"/><circle cx="557.99" cy="89.15" r="2.1"/><circle cx="560.99" cy="88.35" r="2.1"/><circle cx="563.49" cy="87.2" r="2.1"/><circle cx="565.51" cy="85.78" r="2.1"/><circle cx="568.99" cy="83.21" r="2.1"/></g>
<path d="M615.4 15.4h23.5" stroke="#0072BD" stroke-width="1.15"/>
<circle cx="627.15" cy="15.4" r="2.1" fill="#0072BD"/>
<text x="640.5" y="17.5" class="g">L = 540 mm</text>
<path d="M615.4 23.5h23.5" stroke="#D95319" stroke-width="1.15"/>
<circle cx="627.15" cy="23.5" r="2.1" fill="#D95319"/>
<text x="640.5" y="25.6" class="g">L = 440 mm</text>
<path d="M615.4 31.6h23.5" stroke="#EDB120" stroke-width="1.15"/>
<circle cx="627.15" cy="31.6" r="2.1" fill="#EDB120"/>
<text x="640.5" y="33.7" class="g">L = 340 mm</text>
<path d="M385.5 136V225H520.3" fill="none" stroke="#858585" stroke-width="0.8"/>
<path d="M385.5 225h1.3M385.5 212.29h1.3M385.5 199.57h1.3M385.5 186.86h1.3M385.5 174.14h1.3M385.5 161.43h1.3M385.5 148.71h1.3M385.5 136h1.3M385.5 225v-1.3M402.35 225v-1.3M419.2 225v-1.3M436.05 225v-1.3M452.9 225v-1.3M469.75 225v-1.3M486.6 225v-1.3M503.45 225v-1.3M520.3 225v-1.3" fill="none" stroke="#858585" stroke-width="0.8"/>
<text x="383.3" y="227.7" class="t" text-anchor="end">0</text>
<text x="383.3" y="214.99" class="t" text-anchor="end">5</text>
<text x="383.3" y="202.27" class="t" text-anchor="end">10</text>
<text x="383.3" y="189.56" class="t" text-anchor="end">15</text>
<text x="383.3" y="176.84" class="t" text-anchor="end">20</text>
<text x="383.3" y="164.13" class="t" text-anchor="end">25</text>
<text x="383.3" y="151.41" class="t" text-anchor="end">30</text>
<text x="383.3" y="138.7" class="t" text-anchor="end">35</text>
<text x="385.5" y="234.1" class="t" text-anchor="middle">0</text>
<text x="402.35" y="234.1" class="t" text-anchor="middle">5</text>
<text x="419.2" y="234.1" class="t" text-anchor="middle">10</text>
<text x="436.05" y="234.1" class="t" text-anchor="middle">15</text>
<text x="452.9" y="234.1" class="t" text-anchor="middle">20</text>
<text x="469.75" y="234.1" class="t" text-anchor="middle">25</text>
<text x="486.6" y="234.1" class="t" text-anchor="middle">30</text>
<text x="503.45" y="234.1" class="t" text-anchor="middle">35</text>
<text x="520.3" y="234.1" class="t" text-anchor="middle">40</text>
<text x="452.7" y="243.3" class="l" text-anchor="middle">Load (N)</text>
<text transform="translate(372.2 180.5) rotate(-90)" class="ly" text-anchor="middle">Lateral Displacement (mm)</text>
<text x="388.1 390.35 394.5" y="147.5" class="a">(45</text>
<circle cx="400.9" cy="143.3" r="1.2" fill="none" stroke="#333" stroke-width="0.6"/>
<text x="402.6" y="147.5" class="a">)</text>
<path d="M385.5 225 L397.63 222.2 L411.45 218.64 L424.93 214.83 L437.74 209.74 L451.22 203.89 L464.36 197.03 L477.84 191.69 L490.98 183.81 L504.46 173.89 L517.27 163.21" fill="none" stroke="#0072BD" stroke-width="1.15" stroke-linejoin="round"/>
<g fill="#0072BD"><circle cx="385.5" cy="225" r="2.1"/><circle cx="397.63" cy="222.2" r="2.1"/><circle cx="411.45" cy="218.64" r="2.1"/><circle cx="424.93" cy="214.83" r="2.1"/><circle cx="437.74" cy="209.74" r="2.1"/><circle cx="451.22" cy="203.89" r="2.1"/><circle cx="464.36" cy="197.03" r="2.1"/><circle cx="477.84" cy="191.69" r="2.1"/><circle cx="490.98" cy="183.81" r="2.1"/><circle cx="504.46" cy="173.89" r="2.1"/><circle cx="517.27" cy="163.21" r="2.1"/></g>
<path d="M385.5 225 L391.57 224.75 L398.31 222.79 L405.05 221.59 L411.79 219.91 L418.53 217.88 L424.93 214.83 L431.33 211.27 L437.74 205.17 L444.48 198.81 L451.22 189.91 L457.62 179.99" fill="none" stroke="#D95319" stroke-width="1.15" stroke-linejoin="round"/>
<g fill="#D95319"><circle cx="385.5" cy="225" r="2.1"/><circle cx="391.57" cy="224.75" r="2.1"/><circle cx="398.31" cy="222.79" r="2.1"/><circle cx="405.05" cy="221.59" r="2.1"/><circle cx="411.79" cy="219.91" r="2.1"/><circle cx="418.53" cy="217.88" r="2.1"/><circle cx="424.93" cy="214.83" r="2.1"/><circle cx="431.33" cy="211.27" r="2.1"/><circle cx="437.74" cy="205.17" r="2.1"/><circle cx="444.48" cy="198.81" r="2.1"/><circle cx="451.22" cy="189.91" r="2.1"/><circle cx="457.62" cy="179.99" r="2.1"/></g>
<path d="M385.5 225 L390.22 224.08 L395.27 222.79 L400.33 221.19 L405.05 218.64 L410.1 215.34 L415.16 211.27 L419.87 206.18 L424.93 200.08" fill="none" stroke="#EDB120" stroke-width="1.15" stroke-linejoin="round"/>
<g fill="#EDB120"><circle cx="385.5" cy="225" r="2.1"/><circle cx="390.22" cy="224.08" r="2.1"/><circle cx="395.27" cy="222.79" r="2.1"/><circle cx="400.33" cy="221.19" r="2.1"/><circle cx="405.05" cy="218.64" r="2.1"/><circle cx="410.1" cy="215.34" r="2.1"/><circle cx="415.16" cy="211.27" r="2.1"/><circle cx="419.87" cy="206.18" r="2.1"/><circle cx="424.93" cy="200.08" r="2.1"/></g>
<path d="M455 146.2h23.5" stroke="#0072BD" stroke-width="1.15"/>
<circle cx="466.75" cy="146.2" r="2.1" fill="#0072BD"/>
<text x="480.1" y="148.3" class="g">L = 540 mm</text>
<path d="M455 154.3h23.5" stroke="#D95319" stroke-width="1.15"/>
<circle cx="466.75" cy="154.3" r="2.1" fill="#D95319"/>
<text x="480.1" y="156.4" class="g">L = 440 mm</text>
<path d="M455 162.4h23.5" stroke="#EDB120" stroke-width="1.15"/>
<circle cx="466.75" cy="162.4" r="2.1" fill="#EDB120"/>
<text x="480.1" y="164.5" class="g">L = 340 mm</text>
<path d="M545.6 135.9V224.5H680.6" fill="none" stroke="#858585" stroke-width="0.8"/>
<path d="M545.6 224.5h1.3M545.6 206.78h1.3M545.6 189.06h1.3M545.6 171.34h1.3M545.6 153.62h1.3M545.6 135.9h1.3M545.6 224.5v-1.3M562.48 224.5v-1.3M579.35 224.5v-1.3M596.23 224.5v-1.3M613.1 224.5v-1.3M629.98 224.5v-1.3M646.85 224.5v-1.3M663.73 224.5v-1.3M680.6 224.5v-1.3" fill="none" stroke="#858585" stroke-width="0.8"/>
<text x="543.4" y="227.2" class="t" text-anchor="end">0</text>
<text x="543.4" y="209.48" class="t" text-anchor="end">2</text>
<text x="543.4" y="191.76" class="t" text-anchor="end">4</text>
<text x="543.4" y="174.04" class="t" text-anchor="end">6</text>
<text x="543.4" y="156.32" class="t" text-anchor="end">8</text>
<text x="543.4" y="138.6" class="t" text-anchor="end">10</text>
<text x="545.6" y="233.6" class="t" text-anchor="middle">0</text>
<text x="562.48" y="233.6" class="t" text-anchor="middle">5</text>
<text x="579.35" y="233.6" class="t" text-anchor="middle">10</text>
<text x="596.23" y="233.6" class="t" text-anchor="middle">15</text>
<text x="613.1" y="233.6" class="t" text-anchor="middle">20</text>
<text x="629.98" y="233.6" class="t" text-anchor="middle">25</text>
<text x="646.85" y="233.6" class="t" text-anchor="middle">30</text>
<text x="663.73" y="233.6" class="t" text-anchor="middle">35</text>
<text x="680.6" y="233.6" class="t" text-anchor="middle">40</text>
<text x="612.9" y="242.8" class="l" text-anchor="middle">Load (N)</text>
<text transform="translate(532.3 180.2) rotate(-90)" class="ly" text-anchor="middle">Vertical Displacement (mm)</text>
<text x="548.2 550.45 554.6" y="147.4" class="a">(45</text>
<circle cx="561" cy="143.2" r="1.2" fill="none" stroke="#333" stroke-width="0.6"/>
<text x="562.7" y="147.4" class="a">)</text>
<path d="M545.6 224.5 L557.75 221.58 L571.93 221.13 L585.43 219.63 L598.59 218.48 L611.75 218.48 L625.25 213.96 L638.41 211.3 L651.58 205.63 L664.74 198.81 L677.9 189.06" fill="none" stroke="#0072BD" stroke-width="1.15" stroke-linejoin="round"/>
<g fill="#0072BD"><circle cx="545.6" cy="224.5" r="2.1"/><circle cx="557.75" cy="221.58" r="2.1"/><circle cx="571.93" cy="221.13" r="2.1"/><circle cx="585.43" cy="219.63" r="2.1"/><circle cx="598.59" cy="218.48" r="2.1"/><circle cx="611.75" cy="218.48" r="2.1"/><circle cx="625.25" cy="213.96" r="2.1"/><circle cx="638.41" cy="211.3" r="2.1"/><circle cx="651.58" cy="205.63" r="2.1"/><circle cx="664.74" cy="198.81" r="2.1"/><circle cx="677.9" cy="189.06" r="2.1"/></g>
<path d="M545.6 224.5 L551.68 223.08 L558.59 221.31 L565.18 219.89 L572.09 218.65 L578.68 215.73 L585.43 212.8 L591.84 207.13 L598.59 198.81 L605.34 189.06 L611.75 174.88 L618.16 159.82" fill="none" stroke="#D95319" stroke-width="1.15" stroke-linejoin="round"/>
<g fill="#D95319"><circle cx="545.6" cy="224.5" r="2.1"/><circle cx="551.68" cy="223.08" r="2.1"/><circle cx="558.59" cy="221.31" r="2.1"/><circle cx="565.18" cy="219.89" r="2.1"/><circle cx="572.09" cy="218.65" r="2.1"/><circle cx="578.68" cy="215.73" r="2.1"/><circle cx="585.43" cy="212.8" r="2.1"/><circle cx="591.84" cy="207.13" r="2.1"/><circle cx="598.59" cy="198.81" r="2.1"/><circle cx="605.34" cy="189.06" r="2.1"/><circle cx="611.75" cy="174.88" r="2.1"/><circle cx="618.16" cy="159.82" r="2.1"/></g>
<path d="M545.6 224.06 L550.33 221.13 L555.39 219.45 L560.45 216.97 L565.18 212.8 L570.24 208.37 L575.3 201.46 L580.02 193.22 L585.43 173.56" fill="none" stroke="#EDB120" stroke-width="1.15" stroke-linejoin="round"/>
<g fill="#EDB120"><circle cx="545.6" cy="224.06" r="2.1"/><circle cx="550.33" cy="221.13" r="2.1"/><circle cx="555.39" cy="219.45" r="2.1"/><circle cx="560.45" cy="216.97" r="2.1"/><circle cx="565.18" cy="212.8" r="2.1"/><circle cx="570.24" cy="208.37" r="2.1"/><circle cx="575.3" cy="201.46" r="2.1"/><circle cx="580.02" cy="193.22" r="2.1"/><circle cx="585.43" cy="173.56" r="2.1"/></g>
<path d="M623.6 146.1h23.5" stroke="#0072BD" stroke-width="1.15"/>
<circle cx="635.35" cy="146.1" r="2.1" fill="#0072BD"/>
<text x="648.7" y="148.2" class="g">L = 540 mm</text>
<path d="M623.6 154.2h23.5" stroke="#D95319" stroke-width="1.15"/>
<circle cx="635.35" cy="154.2" r="2.1" fill="#D95319"/>
<text x="648.7" y="156.3" class="g">L = 440 mm</text>
<path d="M623.6 162.3h23.5" stroke="#EDB120" stroke-width="1.15"/>
<circle cx="635.35" cy="162.3" r="2.1" fill="#EDB120"/>
<text x="648.7" y="164.4" class="g">L = 340 mm</text>
<path d="M385.5 265.4V354.3H520.3" fill="none" stroke="#858585" stroke-width="0.8"/>
<path d="M385.5 354.3h1.3M385.5 341.6h1.3M385.5 328.9h1.3M385.5 316.2h1.3M385.5 303.5h1.3M385.5 290.8h1.3M385.5 278.1h1.3M385.5 265.4h1.3M385.5 354.3v-1.3M402.35 354.3v-1.3M419.2 354.3v-1.3M436.05 354.3v-1.3M452.9 354.3v-1.3M469.75 354.3v-1.3M486.6 354.3v-1.3M503.45 354.3v-1.3M520.3 354.3v-1.3" fill="none" stroke="#858585" stroke-width="0.8"/>
<text x="383.3" y="357" class="t" text-anchor="end">0</text>
<text x="383.3" y="344.3" class="t" text-anchor="end">5</text>
<text x="383.3" y="331.6" class="t" text-anchor="end">10</text>
<text x="383.3" y="318.9" class="t" text-anchor="end">15</text>
<text x="383.3" y="306.2" class="t" text-anchor="end">20</text>
<text x="383.3" y="293.5" class="t" text-anchor="end">25</text>
<text x="383.3" y="280.8" class="t" text-anchor="end">30</text>
<text x="383.3" y="268.1" class="t" text-anchor="end">35</text>
<text x="385.5" y="363.4" class="t" text-anchor="middle">0</text>
<text x="402.35" y="363.4" class="t" text-anchor="middle">5</text>
<text x="419.2" y="363.4" class="t" text-anchor="middle">10</text>
<text x="436.05" y="363.4" class="t" text-anchor="middle">15</text>
<text x="452.9" y="363.4" class="t" text-anchor="middle">20</text>
<text x="469.75" y="363.4" class="t" text-anchor="middle">25</text>
<text x="486.6" y="363.4" class="t" text-anchor="middle">30</text>
<text x="503.45" y="363.4" class="t" text-anchor="middle">35</text>
<text x="520.3" y="363.4" class="t" text-anchor="middle">40</text>
<text x="452.7" y="372.6" class="l" text-anchor="middle">Load (N)</text>
<text transform="translate(372.2 309.85) rotate(-90)" class="ly" text-anchor="middle">Lateral Displacement (mm)</text>
<text x="388.1 390.35 394.5" y="276.9" class="a">(60</text>
<circle cx="400.9" cy="272.7" r="1.2" fill="none" stroke="#333" stroke-width="0.6"/>
<text x="402.6" y="276.9" class="a">)</text>
<path d="M385.5 354.3 L397.8 350.24 L411.45 346.02 L424.59 340.84 L437.74 334.49 L450.88 325.85 L464.02 316.45 L477.5 306.04 L490.64 295.63 L503.79 268.96" fill="none" stroke="#0072BD" stroke-width="1.15" stroke-linejoin="round"/>
<g fill="#0072BD"><circle cx="385.5" cy="354.3" r="2.1"/><circle cx="397.8" cy="350.24" r="2.1"/><circle cx="411.45" cy="346.02" r="2.1"/><circle cx="424.59" cy="340.84" r="2.1"/><circle cx="437.74" cy="334.49" r="2.1"/><circle cx="450.88" cy="325.85" r="2.1"/><circle cx="464.02" cy="316.45" r="2.1"/><circle cx="477.5" cy="306.04" r="2.1"/><circle cx="490.64" cy="295.63" r="2.1"/><circle cx="503.79" cy="268.96" r="2.1"/></g>
<path d="M385.5 354.3 L392.91 353.21 L401.51 350.9 L409.76 348.71 L417.85 345.82 L426.28 342.87 L434.37 338.55 L442.79 333.47 L450.88 325.6 L459.3 316.96 L467.73 306.04" fill="none" stroke="#D95319" stroke-width="1.15" stroke-linejoin="round"/>
<g fill="#D95319"><circle cx="385.5" cy="354.3" r="2.1"/><circle cx="392.91" cy="353.21" r="2.1"/><circle cx="401.51" cy="350.9" r="2.1"/><circle cx="409.76" cy="348.71" r="2.1"/><circle cx="417.85" cy="345.82" r="2.1"/><circle cx="426.28" cy="342.87" r="2.1"/><circle cx="434.37" cy="338.55" r="2.1"/><circle cx="442.79" cy="333.47" r="2.1"/><circle cx="450.88" cy="325.6" r="2.1"/><circle cx="459.3" cy="316.96" r="2.1"/><circle cx="467.73" cy="306.04" r="2.1"/></g>
<path d="M385.5 353.92 L391.4 350.74 L397.97 347.7 L404.71 342.62 L411.45 336.52 L417.85 329.15 L424.59 317.47 L431 303.25" fill="none" stroke="#EDB120" stroke-width="1.15" stroke-linejoin="round"/>
<g fill="#EDB120"><circle cx="385.5" cy="353.92" r="2.1"/><circle cx="391.4" cy="350.74" r="2.1"/><circle cx="397.97" cy="347.7" r="2.1"/><circle cx="404.71" cy="342.62" r="2.1"/><circle cx="411.45" cy="336.52" r="2.1"/><circle cx="417.85" cy="329.15" r="2.1"/><circle cx="424.59" cy="317.47" r="2.1"/><circle cx="431" cy="303.25" r="2.1"/></g>
<path d="M461.6 324.6h23.5" stroke="#0072BD" stroke-width="1.15"/>
<circle cx="473.35" cy="324.6" r="2.1" fill="#0072BD"/>
<text x="486.7" y="326.7" class="g">L = 540 mm</text>
<path d="M461.6 332.8h23.5" stroke="#D95319" stroke-width="1.15"/>
<circle cx="473.35" cy="332.8" r="2.1" fill="#D95319"/>
<text x="486.7" y="334.9" class="g">L = 440 mm</text>
<path d="M461.6 341h23.5" stroke="#EDB120" stroke-width="1.15"/>
<circle cx="473.35" cy="341" r="2.1" fill="#EDB120"/>
<text x="486.7" y="343.1" class="g">L = 340 mm</text>
<path d="M545.6 265.4V354.3H680.6" fill="none" stroke="#858585" stroke-width="0.8"/>
<path d="M545.6 354.3h1.3M545.6 336.52h1.3M545.6 318.74h1.3M545.6 300.96h1.3M545.6 283.18h1.3M545.6 265.4h1.3M545.6 354.3v-1.3M562.48 354.3v-1.3M579.35 354.3v-1.3M596.23 354.3v-1.3M613.1 354.3v-1.3M629.98 354.3v-1.3M646.85 354.3v-1.3M663.73 354.3v-1.3M680.6 354.3v-1.3" fill="none" stroke="#858585" stroke-width="0.8"/>
<text x="543.4" y="357" class="t" text-anchor="end">0</text>
<text x="543.4" y="339.22" class="t" text-anchor="end">2</text>
<text x="543.4" y="321.44" class="t" text-anchor="end">4</text>
<text x="543.4" y="303.66" class="t" text-anchor="end">6</text>
<text x="543.4" y="285.88" class="t" text-anchor="end">8</text>
<text x="543.4" y="268.1" class="t" text-anchor="end">10</text>
<text x="545.6" y="363.4" class="t" text-anchor="middle">0</text>
<text x="562.48" y="363.4" class="t" text-anchor="middle">5</text>
<text x="579.35" y="363.4" class="t" text-anchor="middle">10</text>
<text x="596.23" y="363.4" class="t" text-anchor="middle">15</text>
<text x="613.1" y="363.4" class="t" text-anchor="middle">20</text>
<text x="629.98" y="363.4" class="t" text-anchor="middle">25</text>
<text x="646.85" y="363.4" class="t" text-anchor="middle">30</text>
<text x="663.73" y="363.4" class="t" text-anchor="middle">35</text>
<text x="680.6" y="363.4" class="t" text-anchor="middle">40</text>
<text x="612.9" y="372.6" class="l" text-anchor="middle">Load (N)</text>
<text transform="translate(532.3 309.85) rotate(-90)" class="ly" text-anchor="middle">Vertical Displacement (mm)</text>
<text x="548.2 550.45 554.6" y="276.9" class="a">(60</text>
<circle cx="561" cy="272.7" r="1.2" fill="none" stroke="#333" stroke-width="0.6"/>
<text x="562.7" y="276.9" class="a">)</text>
<path d="M545.6 354.3 L559.1 354.3 L572.09 354.12 L585.43 352.7 L598.59 352.43 L611.75 350.92 L624.91 347.19 L638.08 342.83 L651.58 338.65 L664.74 330.21" fill="none" stroke="#0072BD" stroke-width="1.15" stroke-linejoin="round"/>
<g fill="#0072BD"><circle cx="545.6" cy="354.3" r="2.1"/><circle cx="559.1" cy="354.3" r="2.1"/><circle cx="572.09" cy="354.12" r="2.1"/><circle cx="585.43" cy="352.7" r="2.1"/><circle cx="598.59" cy="352.43" r="2.1"/><circle cx="611.75" cy="350.92" r="2.1"/><circle cx="624.91" cy="347.19" r="2.1"/><circle cx="638.08" cy="342.83" r="2.1"/><circle cx="651.58" cy="338.65" r="2.1"/><circle cx="664.74" cy="330.21" r="2.1"/></g>
<path d="M545.6 354.3 L553.36 353.23 L561.8 351.37 L570.24 349.68 L578.51 348.52 L586.77 347.01 L595.21 342.83 L603.65 338.65 L611.75 330.03 L619.85 321.85 L628.29 309.05" fill="none" stroke="#D95319" stroke-width="1.15" stroke-linejoin="round"/>
<g fill="#D95319"><circle cx="545.6" cy="354.3" r="2.1"/><circle cx="553.36" cy="353.23" r="2.1"/><circle cx="561.8" cy="351.37" r="2.1"/><circle cx="570.24" cy="349.68" r="2.1"/><circle cx="578.51" cy="348.52" r="2.1"/><circle cx="586.77" cy="347.01" r="2.1"/><circle cx="595.21" cy="342.83" r="2.1"/><circle cx="603.65" cy="338.65" r="2.1"/><circle cx="611.75" cy="330.03" r="2.1"/><circle cx="619.85" cy="321.85" r="2.1"/><circle cx="628.29" cy="309.05" r="2.1"/></g>
<path d="M545.6 353.94 L552.18 349.68 L559.1 346.74 L565.68 341.59 L572.09 337.14 L578.84 330.21 L585.43 321.85 L592.18 310.56" fill="none" stroke="#EDB120" stroke-width="1.15" stroke-linejoin="round"/>
<g fill="#EDB120"><circle cx="545.6" cy="353.94" r="2.1"/><circle cx="552.18" cy="349.68" r="2.1"/><circle cx="559.1" cy="346.74" r="2.1"/><circle cx="565.68" cy="341.59" r="2.1"/><circle cx="572.09" cy="337.14" r="2.1"/><circle cx="578.84" cy="330.21" r="2.1"/><circle cx="585.43" cy="321.85" r="2.1"/><circle cx="592.18" cy="310.56" r="2.1"/></g>
<path d="M615.4 275.6h23.5" stroke="#0072BD" stroke-width="1.15"/>
<circle cx="627.15" cy="275.6" r="2.1" fill="#0072BD"/>
<text x="640.5" y="277.7" class="g">L = 540 mm</text>
<path d="M615.4 283.7h23.5" stroke="#D95319" stroke-width="1.15"/>
<circle cx="627.15" cy="283.7" r="2.1" fill="#D95319"/>
<text x="640.5" y="285.8" class="g">L = 440 mm</text>
<path d="M615.4 291.8h23.5" stroke="#EDB120" stroke-width="1.15"/>
<circle cx="627.15" cy="291.8" r="2.1" fill="#EDB120"/>
<text x="640.5" y="293.9" class="g">L = 340 mm</text>
<text x="4.0" y="11.2" class="p">(a)</text>
<text x="344.6" y="14.3" class="p">(b)</text>
</svg>
</body></html>
